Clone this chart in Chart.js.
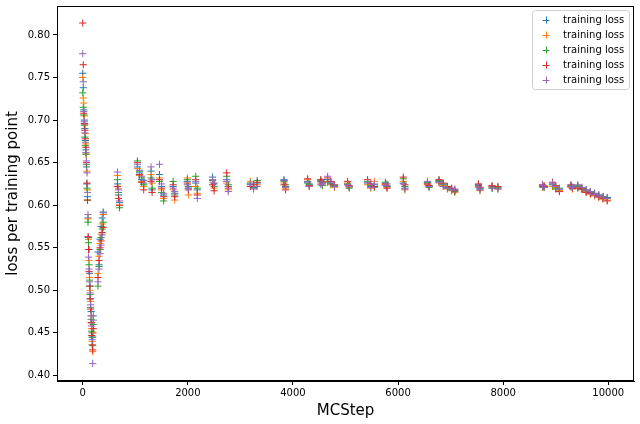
<!DOCTYPE html>
<html>
<head>
<meta charset="utf-8">
<script src="https://cdn.jsdelivr.net/npm/chart.js@4/dist/chart.umd.min.js"></script>
<style>
  html, body { margin: 0; padding: 0; background: #fff; }
  #wrap { width: 640px; height: 424px; }
</style>
</head>
<body>
<div id="wrap"><canvas id="lossChart" width="640" height="424"></canvas></div>
<script>
'use strict';

// MC steps at which the loss was sampled (shared by all runs)
const steps = [
    0, 10, 20, 30, 40, 50, 60, 70, 80, 90,
    100, 110, 120, 130, 140, 150, 160, 170, 180, 190, 200,
    290, 310, 330, 350, 370, 390,
    660, 680, 700,
    1040, 1080, 1120, 1160,
    1300, 1320,
    1460, 1500, 1540,
    1720, 1750,
    1990, 2010,
    2150, 2180,
    2470, 2500,
    2740, 2770,
    3190, 3250, 3320,
    3830, 3860,
    4280, 4310,
    4530, 4560,
    4660, 4720, 4790,
    5040, 5070,
    5420, 5480, 5550,
    5760, 5790,
    6100, 6130,
    6560, 6590,
    6780, 6860, 6940, 7020, 7080,
    7530, 7560,
    7790, 7900,
    8750, 8780,
    8940, 9000, 9070,
    9290, 9320,
    9420, 9500, 9580, 9660, 9740, 9820, 9900, 9980
];

const run1 = [
    0.755, 0.738, 0.712, 0.700, 0.690, 0.676, 0.665, 0.645, 0.625, 0.610,
    0.585, 0.562, 0.548, 0.520, 0.505, 0.490, 0.475, 0.462, 0.450, 0.445, 0.470,
    0.545, 0.530, 0.560, 0.575, 0.585, 0.592,
    0.625, 0.612, 0.603,
    0.645, 0.638, 0.630, 0.626,
    0.640, 0.618,
    0.636, 0.622, 0.612,
    0.622, 0.614,
    0.628, 0.620,
    0.626, 0.618,
    0.633, 0.625,
    0.630, 0.622,
    0.624, 0.621, 0.626,
    0.630, 0.622,
    0.628, 0.624,
    0.628, 0.625,
    0.630, 0.626, 0.622,
    0.624, 0.622,
    0.626, 0.622, 0.624,
    0.626, 0.622,
    0.626, 0.620,
    0.626, 0.623,
    0.628, 0.624, 0.621, 0.619, 0.618,
    0.624, 0.620,
    0.622, 0.620,
    0.623, 0.622,
    0.624, 0.620, 0.618,
    0.622, 0.620,
    0.622, 0.620, 0.618, 0.616, 0.614, 0.612, 0.610, 0.609
];

const run2 = [
    0.750, 0.726, 0.720, 0.705, 0.695, 0.684, 0.672, 0.660, 0.640, 0.618,
    0.584, 0.560, 0.535, 0.515, 0.500, 0.487, 0.470, 0.455, 0.440, 0.428, 0.450,
    0.520, 0.540, 0.555, 0.566, 0.578, 0.589,
    0.635, 0.620, 0.600,
    0.643, 0.635, 0.628, 0.622,
    0.636, 0.626,
    0.632, 0.618, 0.608,
    0.618, 0.606,
    0.632, 0.612,
    0.622, 0.614,
    0.627, 0.620,
    0.626, 0.618,
    0.628, 0.622, 0.624,
    0.626, 0.620,
    0.630, 0.622,
    0.626, 0.624,
    0.628, 0.624, 0.621,
    0.626, 0.621,
    0.624, 0.620, 0.628,
    0.624, 0.621,
    0.628, 0.618,
    0.624, 0.622,
    0.626, 0.623, 0.619, 0.617, 0.615,
    0.622, 0.617,
    0.621, 0.619,
    0.621, 0.623,
    0.622, 0.621, 0.617,
    0.621, 0.619,
    0.621, 0.618, 0.616, 0.613, 0.611, 0.609, 0.607, 0.606
];

const run3 = [
    0.732, 0.715, 0.706, 0.694, 0.680, 0.670, 0.660, 0.648, 0.620, 0.606,
    0.580, 0.556, 0.530, 0.512, 0.495, 0.480, 0.466, 0.452, 0.445, 0.435, 0.460,
    0.505, 0.528, 0.548, 0.562, 0.572, 0.580,
    0.630, 0.615, 0.597,
    0.652, 0.640, 0.632, 0.624,
    0.632, 0.620,
    0.628, 0.615, 0.605,
    0.628, 0.612,
    0.630, 0.622,
    0.634, 0.620,
    0.629, 0.622,
    0.634, 0.624,
    0.626, 0.620, 0.629,
    0.628, 0.624,
    0.626, 0.625,
    0.629, 0.623,
    0.627, 0.625, 0.623,
    0.625, 0.620,
    0.628, 0.623, 0.621,
    0.627, 0.623,
    0.631, 0.622,
    0.627, 0.621,
    0.629, 0.625, 0.620, 0.618, 0.616,
    0.623, 0.619,
    0.620, 0.621,
    0.622, 0.621,
    0.625, 0.619, 0.620,
    0.623, 0.621,
    0.623, 0.619, 0.617, 0.615, 0.613, 0.611, 0.610, 0.608
];

const run4 = [
    0.814, 0.765, 0.708, 0.696, 0.688, 0.678, 0.668, 0.650, 0.626, 0.606,
    0.563, 0.548, 0.522, 0.505, 0.490, 0.478, 0.462, 0.447, 0.436, 0.430, 0.455,
    0.515, 0.535, 0.550, 0.558, 0.568, 0.574,
    0.622, 0.608, 0.600,
    0.650, 0.636, 0.627, 0.618,
    0.628, 0.615,
    0.630, 0.620, 0.610,
    0.624, 0.610,
    0.626, 0.618,
    0.630, 0.612,
    0.624, 0.617,
    0.638, 0.620,
    0.622, 0.624, 0.627,
    0.624, 0.618,
    0.631, 0.623,
    0.630, 0.627,
    0.632, 0.628, 0.624,
    0.628, 0.623,
    0.630, 0.625, 0.622,
    0.625, 0.620,
    0.633, 0.624,
    0.625, 0.623,
    0.630, 0.626, 0.622, 0.620, 0.617,
    0.625, 0.621,
    0.623, 0.622,
    0.624, 0.622,
    0.627, 0.623, 0.616,
    0.624, 0.620,
    0.620, 0.619, 0.615, 0.614, 0.612, 0.610, 0.608, 0.605
];

const run5 = [
    0.778, 0.745, 0.710, 0.698, 0.685, 0.674, 0.662, 0.652, 0.638, 0.615,
    0.589, 0.539, 0.525, 0.510, 0.497, 0.483, 0.470, 0.458, 0.442, 0.414, 0.465,
    0.510, 0.525, 0.543, 0.553, 0.565, 0.591,
    0.639, 0.618, 0.605,
    0.648, 0.641, 0.634, 0.629,
    0.645, 0.630,
    0.648, 0.625, 0.614,
    0.620, 0.616,
    0.624, 0.620,
    0.628, 0.608,
    0.630, 0.626,
    0.628, 0.616,
    0.625, 0.619, 0.622,
    0.629, 0.621,
    0.627, 0.622,
    0.624, 0.626,
    0.634, 0.627, 0.622,
    0.624, 0.622,
    0.627, 0.621, 0.625,
    0.623, 0.625,
    0.625, 0.619,
    0.628, 0.622,
    0.627, 0.622, 0.620, 0.618, 0.619,
    0.621, 0.618,
    0.620, 0.619,
    0.623, 0.621,
    0.626, 0.622, 0.619,
    0.622, 0.621,
    0.624, 0.621, 0.618, 0.616, 0.613, 0.612, 0.610, 0.608
];

const runs   = [run1, run2, run3, run4, run5];
const labels = ['training loss', 'training loss', 'training loss', 'training loss', 'training loss'];
const colors = ['#1f77b4', '#ff7f0e', '#2ca02c', '#d62728', '#9467bd'];

const xTicks = [0, 2000, 4000, 6000, 8000, 10000];
const yTicks = [0.40, 0.45, 0.50, 0.55, 0.60, 0.65, 0.70, 0.75, 0.80];

const FONT = '"DejaVu Sans", "Liberation Sans", sans-serif';

// matplotlib-style frame on all four sides
const framePlugin = {
    id: 'frame',
    afterDraw(chart) {
        const { ctx, chartArea: a } = chart;
        ctx.save();
        ctx.strokeStyle = '#000';
        ctx.lineWidth = 1;
        ctx.strokeRect(Math.round(a.left) + 0.5, Math.round(a.top) + 0.5,
                       Math.round(a.right - a.left) - 1, Math.round(a.bottom - a.top) - 1);
        ctx.restore();
    }
};

// legend box in the upper right corner, drawn from the datasets
const legendPlugin = {
    id: 'boxLegend',
    afterDraw(chart) {
        const { ctx, chartArea: a } = chart;
        const sets = chart.data.datasets;
        const w = 97, rowH = 15;
        const h = sets.length * rowH + 4;
        const x0 = a.right - w - 5, y0 = a.top + 4;
        ctx.save();
        ctx.beginPath();
        ctx.roundRect(x0 + 0.5, y0 + 0.5, w, h, 3);
        ctx.fillStyle = 'rgba(255,255,255,0.8)';
        ctx.fill();
        ctx.strokeStyle = '#d0d0d0';
        ctx.lineWidth = 1;
        ctx.stroke();
        ctx.font = '10px ' + FONT;
        ctx.textBaseline = 'middle';
        sets.forEach((ds, i) => {
            const cy = y0 + 10 + i * rowH;
            const cx = x0 + 14;
            ctx.strokeStyle = ds.borderColor;
            ctx.beginPath();
            ctx.moveTo(cx - 3.5, cy + 0.5); ctx.lineTo(cx + 3.5, cy + 0.5);
            ctx.moveTo(cx + 0.5, cy - 3.5); ctx.lineTo(cx + 0.5, cy + 3.5);
            ctx.stroke();
            ctx.fillStyle = '#000';
            ctx.fillText(ds.label, x0 + 31, cy);
        });
        ctx.restore();
    }
};

const datasets = runs.map((run, i) => ({
    label: labels[i],
    data: steps.map((s, j) => ({ x: s, y: run[j] })),
    showLine: false,
    pointStyle: 'cross',
    pointRadius: 3.6,
    pointBorderWidth: 1,
    borderColor: colors[i],
    backgroundColor: colors[i],
    order: runs.length - i
}));

new Chart(document.getElementById('lossChart').getContext('2d'), {
    type: 'scatter',
    data: { datasets },
    options: {
        animation: false,
        responsive: false,
        devicePixelRatio: 1,
        layout: { padding: { left: 0, top: 6, right: 6, bottom: 0 } },
        plugins: { legend: { display: false }, tooltip: { enabled: false } },
        scales: {
            x: {
                type: 'linear', min: -490, max: 10490,
                afterBuildTicks: s => { s.ticks = xTicks.map(v => ({ value: v })); },
                afterFit: s => { s.height = 43; s.paddingLeft = 0; s.paddingRight = 0; },
                ticks: { color: '#000', font: { family: FONT, size: 10 }, padding: 2,
                         maxRotation: 0, autoSkip: false, callback: v => String(v) },
                grid: { drawOnChartArea: false, tickLength: 4, color: '#000' },
                border: { color: '#000' },
                title: { display: true, text: 'MCStep', color: '#000',
                         font: { family: FONT, size: 15 }, padding: { top: 2, bottom: 4 } }
            },
            y: {
                type: 'linear', min: 0.3935, max: 0.834,
                afterBuildTicks: s => { s.ticks = yTicks.map(v => ({ value: v })); },
                afterFit: s => { s.width = 57; s.paddingTop = 0; s.paddingBottom = 0; },
                ticks: { color: '#000', font: { family: FONT, size: 10 }, padding: 3,
                         autoSkip: false, callback: v => v.toFixed(2) },
                grid: { drawOnChartArea: false, tickLength: 4, color: '#000' },
                border: { color: '#000' },
                title: { display: true, text: 'loss per training point', color: '#000',
                         font: { family: FONT, size: 15 }, padding: { top: 4, bottom: 2 } }
            }
        }
    },
    plugins: [framePlugin, legendPlugin]
});
</script>
</body>
</html>
